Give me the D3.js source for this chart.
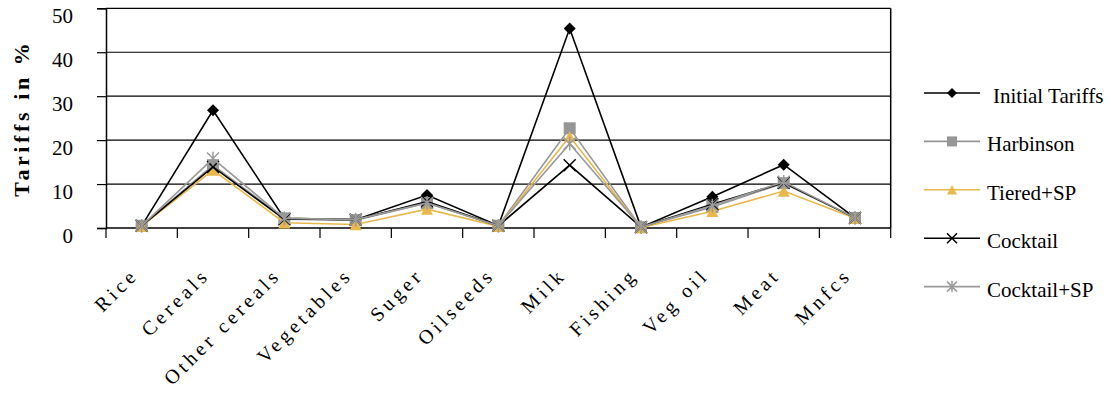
<!DOCTYPE html>
<html>
<head>
<meta charset="utf-8">
<script src="https://cdn.jsdelivr.net/npm/d3@7"></script>
<style>
  html, body { margin: 0; padding: 0; background: #fff; }
  svg { display: block; }
</style>
</head>
<body>
<svg id="chart" width="1111" height="397"></svg>
<script>
// Product groups along the x axis
const categories = ["Rice", "Cereals", "Other cereals", "Vegetables", "Suger", "Oilseeds",
                    "Milk", "Fishing", "Veg oil", "Meat", "Mnfcs"];

// Tariff levels (%) per scenario
const initialTariffs = [0.5, 26.8, 2.2, 1.9, 7.5, 0.5, 45.4, 0.2, 7.1, 14.4, 2.3];
const harbinson      = [0.5, 14.3, 2.2, 1.8, 5.7, 0.5, 22.7, 0.2, 4.8, 10.2, 2.3];
const tieredSP       = [0.4, 13.2, 1.2, 0.8, 4.3, 0.4, 20.8, 0.1, 3.8, 8.4, 2.2];
const cocktail       = [0.5, 13.9, 2.0, 1.9, 6.0, 0.5, 14.3, 0.2, 5.4, 10.3, 2.3];
const cocktailSP     = [0.5, 15.8, 2.2, 1.9, 5.7, 0.5, 19.2, 0.2, 5.1, 10.5, 2.3];

const yTicks = [0, 10, 20, 30, 40, 50];

const seriesNames = ["Initial Tariffs", "Harbinson", "Tiered+SP", "Cocktail", "Cocktail+SP"];
const seriesValues = [initialTariffs, harbinson, tieredSP, cocktail, cocktailSP];
const seriesColors = ["#000000", "#969696", "#E9B84A", "#000000", "#9a9a9a"];
const seriesMarkers = ["diamond", "square", "triangle", "cross", "star"];

const FONT = "Liberation Serif";

const svg = d3.select("#chart");
const plot = { left: 106, right: 890.7, top: 8.3, bottom: 228 };

const x = d3.scaleBand().domain(categories).range([plot.left, plot.right]).padding(0);
const y = d3.scaleLinear().domain([0, 50]).range([plot.bottom, plot.top]);

function serif(sel, size) {
  return sel.attr("font-family", FONT).style("font-family", FONT).style("font-size", size + "px");
}

// Widely tracked text: one tspan per character, each nudged by dx
function spaced(textSel, gap) {
  textSel.each(function () {
    const t = d3.select(this);
    const str = t.attr("data-label");
    t.selectAll("tspan").data(Array.from(str)).join("tspan")
      .attr("dx", (c, i) => (i === 0 ? 0 : gap))
      .text(c => c);
  });
  return textSel;
}

// Horizontal gridlines
svg.append("g").selectAll("line").data(yTicks.filter(d => d > 0)).join("line")
  .attr("x1", plot.left).attr("x2", plot.right)
  .attr("y1", d => y(d)).attr("y2", d => y(d))
  .attr("stroke", "#000").attr("stroke-width", 1.2);

// Right edge of the plot frame
svg.append("line").attr("x1", plot.right).attr("x2", plot.right)
  .attr("y1", plot.top).attr("y2", plot.bottom).attr("stroke", "#000").attr("stroke-width", 1.5);

// Y axis
const yAxis = d3.axisLeft(y).tickValues(yTicks).tickSize(9).tickPadding(0).tickFormat(d3.format("d"));
const gy = svg.append("g").attr("transform", `translate(${plot.left},0)`).call(yAxis);
gy.attr("font-family", FONT);
gy.select(".domain").attr("stroke", "#000").attr("stroke-width", 1.5);
gy.selectAll(".tick line").attr("stroke", "#000").attr("stroke-width", 1.2);
serif(gy.selectAll(".tick text"), 21)
  .attr("x", -33).attr("dy", null).attr("y", 14.5)
  .attr("text-anchor", "end")
  .attr("fill", "#000");

// X axis with ticks at category boundaries
const gx = svg.append("g").attr("transform", `translate(0,${plot.bottom})`);
gx.append("line").attr("x1", plot.left).attr("x2", plot.right)
  .attr("stroke", "#000").attr("stroke-width", 1.5);
const boundaries = categories.map(c => x(c)).concat([plot.right]);
gx.selectAll("line.tk").data(boundaries).join("line").attr("class", "tk")
  .attr("x1", d => d).attr("x2", d => d).attr("y1", 0).attr("y2", 10)
  .attr("stroke", "#000").attr("stroke-width", 1.2);

const xLabels = serif(svg.append("g").selectAll("text").data(categories).join("text"), 20)
  .attr("transform", d => `translate(${x(d) + x.bandwidth() / 2 - 5},${plot.bottom + 51}) rotate(-45)`)
  .attr("text-anchor", "end")
  .attr("fill", "#000")
  .attr("data-label", d => d);
spaced(xLabels, 3.8);

// Y axis title
const yTitle = serif(svg.append("text"), 22)
  .attr("transform", `translate(29,120) rotate(-90)`)
  .attr("text-anchor", "middle")
  .style("font-weight", "bold")
  .attr("fill", "#000")
  .attr("data-label", "Tariffs in %");
spaced(yTitle, 3.6);

// Marker shapes
function drawMarker(g, type, color, s) {
  if (type === "diamond") {
    const r = s / 2;
    g.append("path").attr("d", `M0,${-r}L${r},0L0,${r}L${-r},0Z`).attr("fill", color);
  } else if (type === "square") {
    g.append("rect").attr("x", -s / 2).attr("y", -s / 2).attr("width", s).attr("height", s)
      .attr("fill", color);
  } else if (type === "triangle") {
    const h = s * 0.95;
    g.append("path").attr("d", `M0,${-h / 2}L${s / 2},${h / 2}L${-s / 2},${h / 2}Z`).attr("fill", color);
  } else if (type === "cross") {
    const r = s / 2;
    g.append("path").attr("d", `M${-r},${-r}L${r},${r}M${-r},${r}L${r},${-r}`)
      .attr("stroke", color).attr("stroke-width", 1.5).attr("fill", "none");
  } else if (type === "star") {
    const r = s / 2;
    g.append("path").attr("d", `M${-r},${-r}L${r},${r}M${-r},${r}L${r},${-r}M0,${-r * 1.15}L0,${r * 1.15}`)
      .attr("stroke", color).attr("stroke-width", 1.5).attr("fill", "none");
  }
}

const line = d3.line()
  .x((d, i) => x(categories[i]) + x.bandwidth() / 2)
  .y(d => y(d));

seriesValues.forEach((vals, si) => {
  const g = svg.append("g");
  g.append("path").datum(vals).attr("d", line)
    .attr("fill", "none").attr("stroke", seriesColors[si]).attr("stroke-width", 1.6);
  vals.forEach((v, i) => {
    const m = g.append("g")
      .attr("transform", `translate(${x(categories[i]) + x.bandwidth() / 2},${y(v)})`);
    drawMarker(m, seriesMarkers[si], seriesColors[si], 12);
  });
});

// Legend
const legend = svg.append("g").attr("transform", "translate(924,93)");
seriesNames.forEach((name, i) => {
  const row = legend.append("g").attr("transform", `translate(0,${i * 48.4})`);
  row.append("line").attr("x1", 0).attr("x2", 56).attr("y1", 0).attr("y2", 0)
    .attr("stroke", seriesColors[i]).attr("stroke-width", 1.6);
  const m = row.append("g").attr("transform", "translate(28,0)");
  drawMarker(m, seriesMarkers[i], seriesColors[i], 10);
  serif(row.append("text"), 21)
    .attr("x", i === 0 ? 69 : 63).attr("y", 10)
    .attr("fill", "#000").text(name);
});
</script>
</body>
</html>
